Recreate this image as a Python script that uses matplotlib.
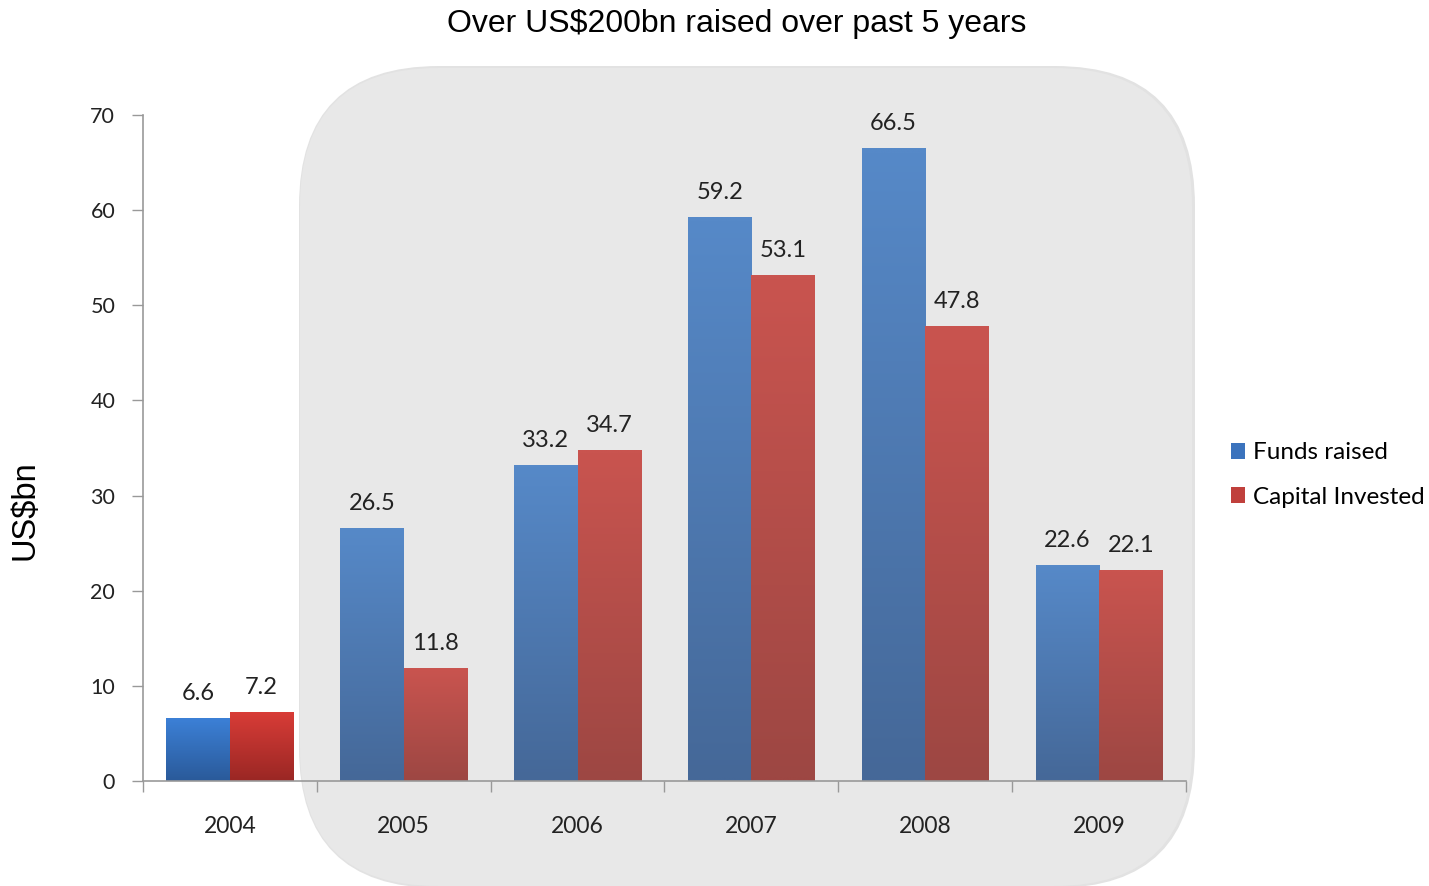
#
#   Funds raised vs capital invested, 2004-2009
#

import numpy as np
import matplotlib
matplotlib.use("Agg")
from matplotlib import pyplot as plt
from matplotlib.patches import FancyBboxPatch, Patch
from matplotlib.colors import to_rgb

# Data
years = ["2004", "2005", "2006", "2007", "2008", "2009"]
fundsRaised = [6.6, 26.5, 33.2, 59.2, 66.5, 22.6]
capitalInvested = [7.2, 11.8, 34.7, 53.1, 47.8, 22.1]
yTicks = [0, 10, 20, 30, 40, 50, 60, 70]

# Gradient colours (top, bottom); first year is brighter
blueFirst = ("#3c80d6", "#2a5a9a")
redFirst = ("#d83c37", "#9a2724")
blueRest = ("#5689c8", "#456898")
redRest = ("#c9544f", "#9d4743")

W, H = 1429, 886
fig = plt.figure(figsize=(W / 100, H / 100), dpi=100)

# Background axes in pixel coordinates for the rounded panel
bg = fig.add_axes([0, 0, 1, 1], zorder=0)
bg.set_xlim(0, W)
bg.set_ylim(H, 0)
bg.axis("off")
shadow = FancyBboxPatch((299, 66), 896, 822, boxstyle="round,pad=0,rounding_size=140",
                        facecolor="#e2e2e2", edgecolor="none")
bg.add_patch(shadow)
panel = FancyBboxPatch((300, 68), 892, 818, boxstyle="round,pad=0,rounding_size=138",
                       facecolor="#e8e8e8", edgecolor="none")
bg.add_patch(panel)

# Main axes
ax = fig.add_axes([143 / W, 105 / H, (1186 - 143) / W, (781 - 115) / H], zorder=1)
ax.patch.set_visible(False)

barWidth = 0.365


def gradientBar(x0, height, colours):
    top = np.array(to_rgb(colours[0]))
    bottom = np.array(to_rgb(colours[1]))
    t = np.linspace(0, 1, 64)[:, None]
    grad = (bottom * (1 - t) + top * t)[:, None, :]
    ax.imshow(grad, extent=(x0, x0 + barWidth, 0, height), origin="lower",
              aspect="auto", zorder=2, interpolation="bilinear")


for i in range(len(years)):
    blue = blueFirst if i == 0 else blueRest
    red = redFirst if i == 0 else redRest
    gradientBar(i - barWidth, fundsRaised[i], blue)
    gradientBar(i, capitalInvested[i], red)
    ax.annotate("{}".format(fundsRaised[i]), (i - barWidth / 2, fundsRaised[i]),
                xytext=(0, 18), textcoords="offset points", ha="center", va="center",
                fontsize=17, family="Lato", color="#222222")
    ax.annotate("{}".format(capitalInvested[i]), (i + barWidth / 2, capitalInvested[i]),
                xytext=(0, 18), textcoords="offset points", ha="center", va="center",
                fontsize=17, family="Lato", color="#222222")

ax.set_xlim(-0.5, len(years) - 0.5)
ax.set_ylim(0, 70)

# Axis styling
for side in ["top", "right"]:
    ax.spines[side].set_visible(False)
for side in ["left", "bottom"]:
    ax.spines[side].set_color("#999999")
    ax.spines[side].set_linewidth(1.2)
    ax.spines[side].set_zorder(3)

ax.set_yticks(yTicks)
ax.set_yticklabels([str(v) for v in yTicks], family="Lato", fontsize=15.5, color="#222222")
ax.tick_params(axis="y", direction="out", length=8, width=1, color="#999999", pad=12)

ax.set_xticks(range(len(years)))
ax.set_xticklabels(years, family="Lato", fontsize=16.5, color="#222222")
ax.set_xticks(np.arange(-0.5, len(years)), minor=True)
ax.tick_params(axis="x", which="major", length=0, pad=25)
ax.tick_params(axis="x", which="minor", direction="out", length=8, width=1, color="#999999")

# Y axis title sits below the axes centre in the reference
fig.text(25 / W, 1 - 510 / H, "US$bn", family="Liberation Sans", fontsize=23.5,
         rotation=90, ha="center", va="center")

fig.text(737 / W, 1 - 24 / H, "Over US$200bn raised over past 5 years",
         family="Liberation Sans", fontsize=23, ha="center", va="center")

# Legend
handles = [Patch(facecolor="#3b73bd", label="Funds raised"),
           Patch(facecolor="#c0403c", label="Capital Invested")]
fig.legend(handles=handles, loc="center left", bbox_to_anchor=(1209 / W, 1 - 475 / H),
           frameon=False, prop={"family": "Lato", "size": 17.5}, handlelength=0.6,
           handleheight=0.6, handletextpad=0.3, labelspacing=0.95)

fig.savefig("out.png", dpi=100)
